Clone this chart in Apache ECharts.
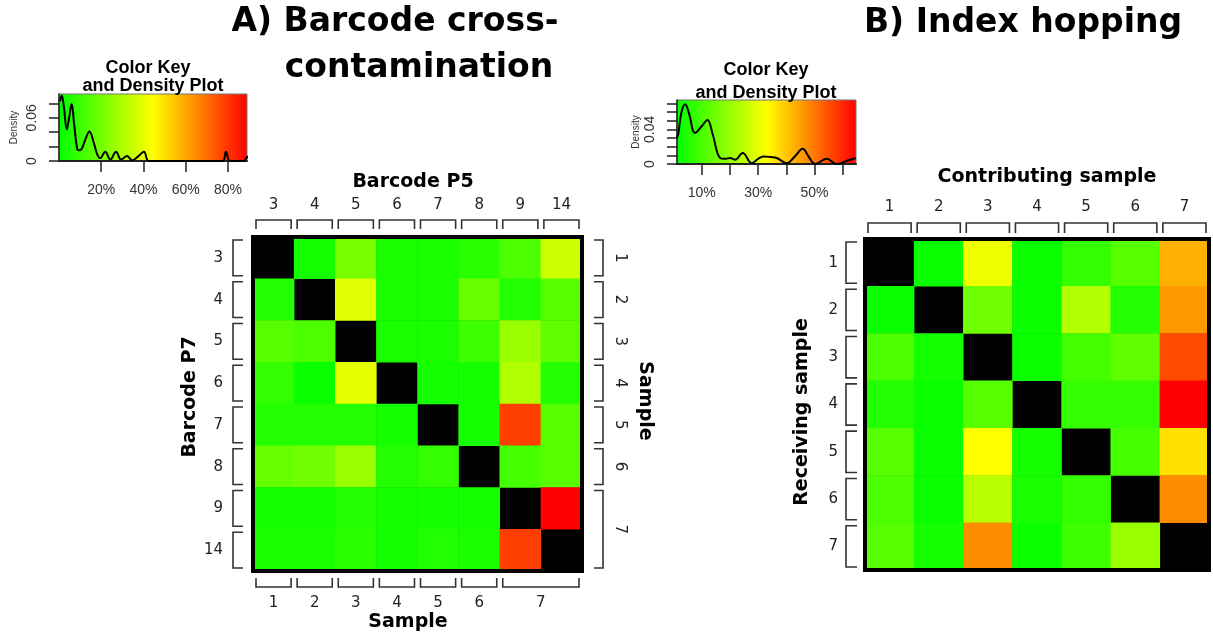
<!DOCTYPE html>
<html><head><meta charset="utf-8">
<script src="https://cdn.jsdelivr.net/npm/echarts@6/dist/echarts.min.js"></script>
<style>html,body{margin:0;padding:0;background:#fff}#c{width:1213px;height:635px}</style>
</head><body><div id="c"></div>
<script>
// ---------- Panel A: barcode cross-contamination ----------
const barcodeP5 = ['3','4','5','6','7','8','9','14'];
const barcodeP7 = ['3','4','5','6','7','8','9','14'];
const sampleLabels = ['1','2','3','4','5','6','7'];
const sampleFrom = [0,1,2,3,4,5,6];
const sampleTo   = [0,1,2,3,4,5,7];
// rows = Barcode P7, cols = Barcode P5, values in %, null = diagonal
const crossContam = [
  [null, 3.5, 20.8, 4.5, 4.5, 7.3, 13.3, 35.6],
  [5.9, null, 39.1, 4.5, 4.5, 17.8, 5.9, 14.8],
  [14.8, 13.3, null, 4.5, 4.5, 10.5, 26.7, 16.8],
  [8.9, 1.7, 40.1, null, 3.5, 3.5, 30.7, 5.9],
  [5.9, 5.9, 5.9, 3.5, null, 3.5, 78, 14.8],
  [17.8, 19.5, 26.7, 5.9, 8.9, null, 11.9, 14.8],
  [3.5, 3.5, 5.9, 3.5, 3.5, 3.5, null, 89],
  [4.5, 4.5, 7.3, 3.5, 5.9, 4.5, 78, null]
];
const keyAMin = 0, keyAMax = 89;
const densityAX = [0.5,1.3,2.3,3.7,4.8,6,7.2,8.7,9.6,10.8,12.5,14.4,16.5,18,19.5,21.9,24.3,27,29.4,32.2,34.6,37.3,40.2,42.5,50,60,70,77.5,79,81,87,89.4];
const densityAY = [0.083,0.091,0.075,0.044,0.060,0.079,0.050,0.016,0.015,0.017,0.030,0.041,0.025,0.010,0.004,0.013,0.002,0.013,0.002,0.007,0.001,0.006,0.013,0,0,0,0,0,0.013,0,0,0.007];
const keyATicksX = [20,40,60,80];
const keyATicksY = [0,0.02,0.04,0.06,0.08];
const keyALabelsY = [0,0.06];
const keyADensityMax = 0.093;

// ---------- Panel B: index hopping ----------
const contributing = ['1','2','3','4','5','6','7'];
const receiving = ['1','2','3','4','5','6','7'];
// rows = receiving sample, cols = contributing sample, values in %
const indexHopping = [
  [null, 2.4, 30.9, 2.4, 7.6, 11.8, 42.8],
  [2.4, null, 15.2, 2.4, 23.2, 5.4, 45.7],
  [10.7, 3.7, null, 2.4, 9.7, 13.2, 55.2],
  [5.4, 2.4, 11.8, null, 7.6, 7.6, 64.7],
  [11.8, 2.4, 33, 3.7, null, 9.7, 36.8],
  [10.7, 2.4, 24.1, 4.4, 7.6, null, 47.3],
  [11.8, 3.7, 47.3, 2.4, 8.7, 20.3, null]
];
const keyBMin = 1.2, keyBMax = 64.7;
const densityBX = [1.2,1.7,2.8,4.1,5.5,7.6,9.8,12,13.8,16.5,18.5,20,21.8,24.5,27.7,30,31.9,34.5,36.6,40.1,43,45.8,48,50.2,54.3,57.9,62.6,64.7];
const densityBY = [0.030,0.036,0.060,0.069,0.058,0.036,0.043,0.051,0.035,0.007,0.006,0.007,0.005,0.0126,0.001,0.006,0.0087,0.008,0.007,0.001,0.0087,0.0176,0.008,0,0.006,0,0.005,0.007];
const keyBTicksX = [10,20,30,40,50,60];
const keyBLabelsX = [10,30,50];
const keyBTicksY = [0,0.01,0.02,0.03,0.04,0.05,0.06,0.07];
const keyBLabelsY = [0,0.04];
const keyBDensityMax = 0.074;

const rampColors = ['#00ff00','#ffff00','#ff0000'];

// ---------- helpers ----------
function toCells(m){ const out=[]; m.forEach((row,r)=>row.forEach((v,c)=>out.push([c,r,v==null?'-':v]))); return out; }
function toXY(xs,ys){ return xs.map((x,i)=>[x,ys[i]]); }
const rampGradient = {type:'linear',x:0,y:0,x2:1,y2:0,colorStops:[{offset:0,color:rampColors[0]},{offset:0.5,color:rampColors[1]},{offset:1,color:rampColors[2]}]};
const TICKFONT = '"DejaVu Sans", Verdana, sans-serif';
const KEYFONT = '"Liberation Sans", Arial, sans-serif';

function bracketSeries(axisIdx, side, from, to, labels, geo){
  return {
    type:'custom', xAxisIndex:axisIdx, yAxisIndex:axisIdx, silent:true, z:6, clip:false,
    data: from.map((f,i)=>[f,to[i]]),
    renderItem: function(params, api){
      const cs = params.coordSys;
      const a = api.value(0), b = api.value(1);
      const bw = api.size([1,1]);
      let pts, lx, ly, rot = 0;
      if (side==='top' || side==='bottom'){
        const x0 = api.coord([a,0])[0] - bw[0]/2 + geo.inset;
        const x1 = api.coord([b,0])[0] + bw[0]/2 - geo.inset;
        const edge = side==='top' ? cs.y : cs.y + cs.height;
        const dir = side==='top' ? -1 : 1;
        pts = [[x0,edge+dir*geo.tip],[x0,edge+dir*geo.bar],[x1,edge+dir*geo.bar],[x1,edge+dir*geo.tip]];
        lx = (x0+x1)/2; ly = edge + dir*(geo.label||0);
      } else {
        const y0 = api.coord([0,a])[1] - bw[1]/2 + geo.inset;
        const y1 = api.coord([0,b])[1] + bw[1]/2 - geo.inset;
        const edge = side==='left' ? cs.x : cs.x + cs.width;
        const dir = side==='left' ? -1 : 1;
        pts = [[edge+dir*geo.tip,y0],[edge+dir*geo.bar,y0],[edge+dir*geo.bar,y1],[edge+dir*geo.tip,y1]];
        lx = edge + dir*(geo.label||0); ly = (y0+y1)/2; rot = side==='right' ? -Math.PI/2 : Math.PI/2;
      }
      const children = [{type:'polyline', shape:{points:pts}, style:{stroke:'#333', lineWidth:1.6, fill:'none'}}];
      if (labels){
        children.push({type:'text', x:lx, y:ly, rotation:rot, style:{text:labels[params.dataIndex], x:0, y:0, fill:'#222', font:'15px '+TICKFONT, align:'center', verticalAlign:'middle', textAlign:'center', textVerticalAlign:'middle'}});
      }
      return {type:'group', children};
    }
  };
}
function frameSeries(axisIdx){
  return {type:'custom', xAxisIndex:axisIdx, yAxisIndex:axisIdx, silent:true, z:7, clip:false, data:[[0,0]],
    renderItem:(params)=>{ const cs=params.coordSys; return {type:'rect', shape:{x:cs.x,y:cs.y,width:cs.width,height:cs.height}, style:{fill:'none', stroke:'#000', lineWidth:4}}; }};
}
function keyXAxis(grid,min,max,ticks,labels){
  return {gridIndex:grid, type:'value', min:min, max:max,
    axisLine:{show:true,onZero:false,lineStyle:{color:'#222',width:2}},
    axisTick:{show:true,length:11,customValues:ticks,lineStyle:{color:'#222',width:1.5}},
    axisLabel:{customValues:labels, formatter:v=>Math.round(v)+'%', margin:22, color:'#333', fontSize:14, fontFamily:KEYFONT},
    splitLine:{show:false}};
}
function keyYAxis(grid,max,ticks,labels,gap){
  return {gridIndex:grid, type:'value', min:0, max:max,
    axisLine:{show:true,lineStyle:{color:'#222',width:1.5}},
    axisTick:{show:true,length:10,customValues:ticks,lineStyle:{color:'#222',width:1.5}},
    axisLabel:{customValues:labels, rotate:90, margin:20, color:'#333', fontSize:14, fontFamily:KEYFONT, formatter:v=>String(+v.toFixed(2))},
    splitLine:{show:false},
    name:'Density', nameLocation:'middle', nameRotate:90, nameGap:gap, nameTextStyle:{fontSize:10, color:'#333', fontFamily:KEYFONT}};
}
function heatXAxis(grid,data){
  return {gridIndex:grid, type:'category', data:data, position:'top',
    axisLine:{show:false}, axisTick:{show:false}, splitLine:{show:false}, splitArea:{show:false},
    axisLabel:{margin:24, color:'#222', fontSize:15, fontFamily:TICKFONT}};
}
function heatYAxis(grid,data,margin){
  return {gridIndex:grid, type:'category', data:data, inverse:true,
    axisLine:{show:false}, axisTick:{show:false}, splitLine:{show:false}, splitArea:{show:false},
    axisLabel:{margin:margin, color:'#222', fontSize:15, fontFamily:TICKFONT}};
}
function txt(t,x,y,font,rot){
  return {type:'text', x:x, y:y, rotation:rot||0, silent:true, style:{text:t, x:0, y:0, fill:'#000', font:font, align:'center', verticalAlign:'middle', textAlign:'center', textVerticalAlign:'middle'}};
}

const chart = echarts.init(document.getElementById('c'), null, {renderer:'canvas'});
const option = {
  animation:false,
  backgroundColor:'#fff',
  grid:[
    {left:59, top:94, width:188, height:67, show:true, backgroundColor:rampGradient, borderColor:'#777', borderWidth:1},
    {left:253, top:237, width:329, height:334, show:true, backgroundColor:'#000', borderWidth:0},
    {left:677, top:100, width:179, height:64, show:true, backgroundColor:rampGradient, borderColor:'#777', borderWidth:1},
    {left:865, top:239, width:344, height:331, show:true, backgroundColor:'#000', borderWidth:0}
  ],
  xAxis:[
    keyXAxis(0,keyAMin,keyAMax,keyATicksX,keyATicksX),
    heatXAxis(1,barcodeP5),
    keyXAxis(2,keyBMin,keyBMax,keyBTicksX,keyBLabelsX),
    heatXAxis(3,contributing)
  ],
  yAxis:[
    keyYAxis(0,keyADensityMax,keyATicksY,keyALabelsY,40),
    heatYAxis(1,barcodeP7,30),
    keyYAxis(2,keyBDensityMax,keyBTicksY,keyBLabelsY,36),
    heatYAxis(3,receiving,27)
  ],
  visualMap:[
    {type:'continuous', show:false, seriesIndex:0, min:keyAMin, max:keyAMax, inRange:{color:rampColors}},
    {type:'continuous', show:false, seriesIndex:1, min:keyBMin, max:keyBMax, inRange:{color:rampColors}}
  ],
  series:[
    {type:'heatmap', xAxisIndex:1, yAxisIndex:1, data:toCells(crossContam), silent:true},
    {type:'heatmap', xAxisIndex:3, yAxisIndex:3, data:toCells(indexHopping), silent:true},
    {type:'line', xAxisIndex:0, yAxisIndex:0, data:toXY(densityAX,densityAY), smooth:0.4, showSymbol:false, lineStyle:{color:'#000',width:2}, silent:true},
    {type:'line', xAxisIndex:2, yAxisIndex:2, data:toXY(densityBX,densityBY), smooth:0.4, showSymbol:false, lineStyle:{color:'#000',width:2}, silent:true},
    frameSeries(1),
    frameSeries(3),
    bracketSeries(1,'top', barcodeP5.map((_,i)=>i), barcodeP5.map((_,i)=>i), null, {inset:3, bar:17, tip:8}),
    bracketSeries(1,'left', barcodeP7.map((_,i)=>i), barcodeP7.map((_,i)=>i), null, {inset:3, bar:20, tip:10}),
    bracketSeries(1,'bottom', sampleFrom, sampleTo, sampleLabels, {inset:3, bar:16, tip:7, label:32}),
    bracketSeries(1,'right', sampleFrom, sampleTo, sampleLabels, {inset:3, bar:21, tip:12, label:38}),
    bracketSeries(3,'top', contributing.map((_,i)=>i), contributing.map((_,i)=>i), null, {inset:3, bar:16, tip:6}),
    bracketSeries(3,'left', receiving.map((_,i)=>i), receiving.map((_,i)=>i), null, {inset:3, bar:19, tip:8})
  ],
  graphic:[
    txt('A) Barcode cross-', 395, 22, 'bold 33px "DejaVu Sans"'),
    txt('contamination', 419, 68, 'bold 33px "DejaVu Sans"'),
    txt('B) Index hopping', 1023, 23, 'bold 33px "DejaVu Sans"'),
    txt('Color Key', 148, 68, 'bold 18px "Liberation Sans"'),
    txt('and Density Plot', 153, 86, 'bold 18px "Liberation Sans"'),
    txt('Color Key', 766, 70, 'bold 18px "Liberation Sans"'),
    txt('and Density Plot', 766, 93, 'bold 18px "Liberation Sans"'),
    txt('Barcode P5', 413, 182, 'bold 19px "DejaVu Sans"'),
    txt('Barcode P7', 190, 397, 'bold 19px "DejaVu Sans"', Math.PI/2),
    txt('Sample', 408, 622, 'bold 19px "DejaVu Sans"'),
    txt('Sample', 645, 401, 'bold 19px "DejaVu Sans"', -Math.PI/2),
    txt('Contributing sample', 1047, 177, 'bold 19px "DejaVu Sans"'),
    txt('Receiving sample', 802, 412, 'bold 19px "DejaVu Sans"', Math.PI/2)
  ]
};
chart.setOption(option);
</script></body></html>
